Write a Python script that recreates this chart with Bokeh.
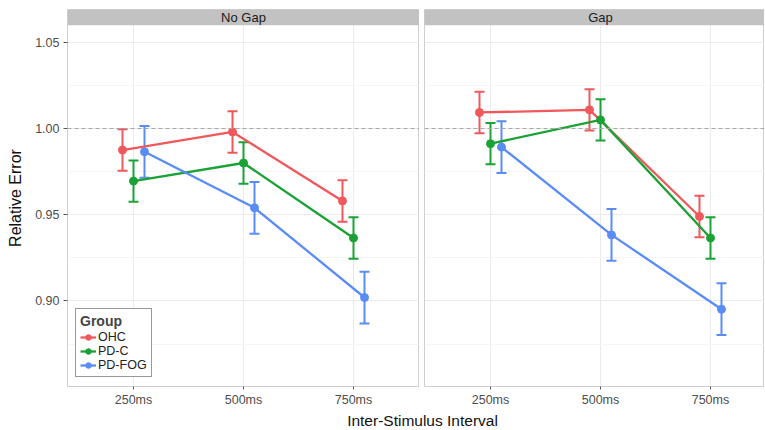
from bokeh.plotting import figure
from bokeh.models import (ColumnDataSource, Range1d, FixedTicker, Whisker, TeeHead, Span,
                          BoxAnnotation, Label, Legend, LegendItem, NumeralTickFormatter)
from bokeh.transform import dodge
from bokeh.layouts import column, row
from bokeh.embed import file_html
from bokeh.resources import INLINE

# ---------------- data ----------------
isi = ["250ms", "500ms", "750ms"]
groups = ["OHC", "PD-C", "PD-FOG"]
panels = ["No Gap", "Gap"]

# No Gap panel: mean relative error and error-bar half width
nogap_ohc = [0.9875, 0.998, 0.958]
nogap_ohc_err = [0.012, 0.012, 0.012]
nogap_pdc = [0.9695, 0.980, 0.9365]
nogap_pdc_err = [0.012, 0.012, 0.012]
nogap_fog = [0.9865, 0.954, 0.902]
nogap_fog_err = [0.015, 0.015, 0.015]

# Gap panel
gap_ohc = [1.0093, 1.0108, 0.949]
gap_ohc_err = [0.012, 0.012, 0.012]
gap_pdc = [0.9912, 1.005, 0.9365]
gap_pdc_err = [0.012, 0.012, 0.012]
gap_fog = [0.9892, 0.9383, 0.8952]
gap_fog_err = [0.015, 0.015, 0.015]

y_ticks = [0.90, 0.95, 1.00, 1.05]
y_minor = [0.875, 0.925, 0.975, 1.025]
ref_level = 1.0

colors = ["#F0585C", "#1BA237", "#5A8CF8"]
offsets = [-0.1, 0.0, 0.1]

FONT = "Liberation Sans"
Y0, Y1 = 0.8504, 1.069
STRIP_BOTTOM = 1.0598

panel_data = {
    "No Gap": [(nogap_ohc, nogap_ohc_err), (nogap_pdc, nogap_pdc_err), (nogap_fog, nogap_fog_err)],
    "Gap": [(gap_ohc, gap_ohc_err), (gap_pdc, gap_pdc_err), (gap_fog, gap_fog_err)],
}

xpos = list(range(1, len(isi) + 1))


def make_panel(name, width, x_end, border_left, show_y):
    p = figure(width=width, height=409,
               x_range=Range1d(0.4, x_end), y_range=Range1d(Y0, Y1),
               toolbar_location=None, output_backend="svg",
               min_border_left=border_left, min_border_right=0,
               min_border_top=9, min_border_bottom=21,
               y_axis_location="left" if show_y else None)
    p.background_fill_color = "white"
    p.border_fill_color = "white"
    p.outline_line_color = "#cfcfcf"
    p.outline_line_width = 1

    # axes
    p.xaxis.ticker = FixedTicker(ticks=xpos)
    p.xaxis.major_label_overrides = {x: lab for x, lab in zip(xpos, isi)}
    p.xaxis.axis_line_color = None
    p.xaxis.major_tick_out = 3
    p.xaxis.major_tick_in = 0
    p.xaxis.major_tick_line_color = "#555555"
    p.xaxis.minor_tick_line_color = None
    p.xaxis.major_label_standoff = 3
    p.xaxis.major_label_text_font = FONT
    p.xaxis.major_label_text_font_size = "12.5px"
    p.xaxis.major_label_text_color = "#4d4d4d"

    if show_y:
        p.yaxis.ticker = FixedTicker(ticks=y_ticks, minor_ticks=y_minor)
        p.yaxis.formatter = NumeralTickFormatter(format="0.00")
        p.yaxis.axis_line_color = None
        p.yaxis.major_tick_out = 4
        p.yaxis.major_tick_in = 0
        p.yaxis.major_tick_line_color = "#555555"
        p.yaxis.minor_tick_line_color = None
        p.yaxis.major_label_standoff = 4
        p.yaxis.major_label_text_font = FONT
        p.yaxis.major_label_text_font_size = "12.5px"
        p.yaxis.major_label_text_color = "#4d4d4d"
        p.yaxis.axis_label = "Relative Error"
        p.yaxis.axis_label_text_font = FONT
        p.yaxis.axis_label_text_font_size = "16px"
        p.yaxis.axis_label_text_font_style = "normal"
        p.yaxis.axis_label_text_color = "#111111"
        p.yaxis.axis_label_standoff = 8

    # grids
    p.xgrid.ticker = FixedTicker(ticks=xpos)
    p.xgrid.grid_line_color = "#ebebeb"
    p.ygrid.ticker = FixedTicker(ticks=y_ticks, minor_ticks=y_minor)
    p.ygrid.grid_line_color = "#ebebeb"
    p.ygrid.minor_grid_line_color = "#f5f5f5"

    # reference line
    p.add_layout(Span(location=ref_level, dimension="width", line_color="#a8a8a8",
                      line_dash="4 3", line_width=1.2))

    items = []
    for g, col, off, (mean, err) in zip(groups, colors, offsets, panel_data[name]):
        src = ColumnDataSource(dict(
            x=xpos, y=mean,
            upper=[m + e for m, e in zip(mean, err)],
            lower=[m - e for m, e in zip(mean, err)],
        ))
        w = Whisker(base=dodge("x", off), upper="upper", lower="lower", source=src,
                    line_color=col, line_width=2,
                    upper_head=TeeHead(size=10, line_color=col, line_width=2),
                    lower_head=TeeHead(size=10, line_color=col, line_width=2))
        p.add_layout(w)
        lr = p.line(x=dodge("x", off), y="y", source=src, line_color=col, line_width=2.3)
        sr = p.scatter(x=dodge("x", off), y="y", source=src, size=8,
                       fill_color=col, line_color=col)
        items.append(LegendItem(label=g, renderers=[lr, sr]))

    # facet strip
    p.add_layout(BoxAnnotation(bottom=STRIP_BOTTOM, fill_color="#c2c2c2", fill_alpha=1.0,
                               line_color=None))
    p.add_layout(Label(x=2, y=(STRIP_BOTTOM + Y1) / 2, text=name, text_align="center",
                       text_baseline="middle", text_font=FONT, text_font_size="13px",
                       text_color="#1a1a1a"))
    return p, items


p1, items1 = make_panel("No Gap", 419, 3.6, 67, True)
p2, _ = make_panel("Gap", 345, 3.491, 5, False)

legend = Legend(items=items1, location=(8, 9), title="Group",
                title_text_font=FONT, title_text_font_style="bold",
                title_text_font_size="14px", title_standoff=1,
                label_text_font=FONT, label_text_font_size="12.5px",
                label_text_color="#222222",
                label_height=14, glyph_height=14, glyph_width=16,
                label_standoff=2, spacing=0, padding=4, margin=0,
                border_line_color="#333333", border_line_width=1.5,
                background_fill_color="white", background_fill_alpha=1.0)
p1.add_layout(legend)

# x-axis title shared by both panels
p3 = figure(width=764, height=20, x_range=Range1d(0, 764), y_range=Range1d(0, 1),
            toolbar_location=None, output_backend="svg",
            x_axis_location=None, y_axis_location=None,
            min_border=0)
p3.outline_line_color = None
p3.grid.visible = False
p3.add_layout(Label(x=422, y=0.475, text="Inter-Stimulus Interval", text_align="center",
                    text_baseline="middle", text_font=FONT,
                    text_font_size="15.5px", text_color="#111111"))

layout = column(row(p1, p2), p3)

open("out.html", "w").write(file_html(layout, INLINE))
